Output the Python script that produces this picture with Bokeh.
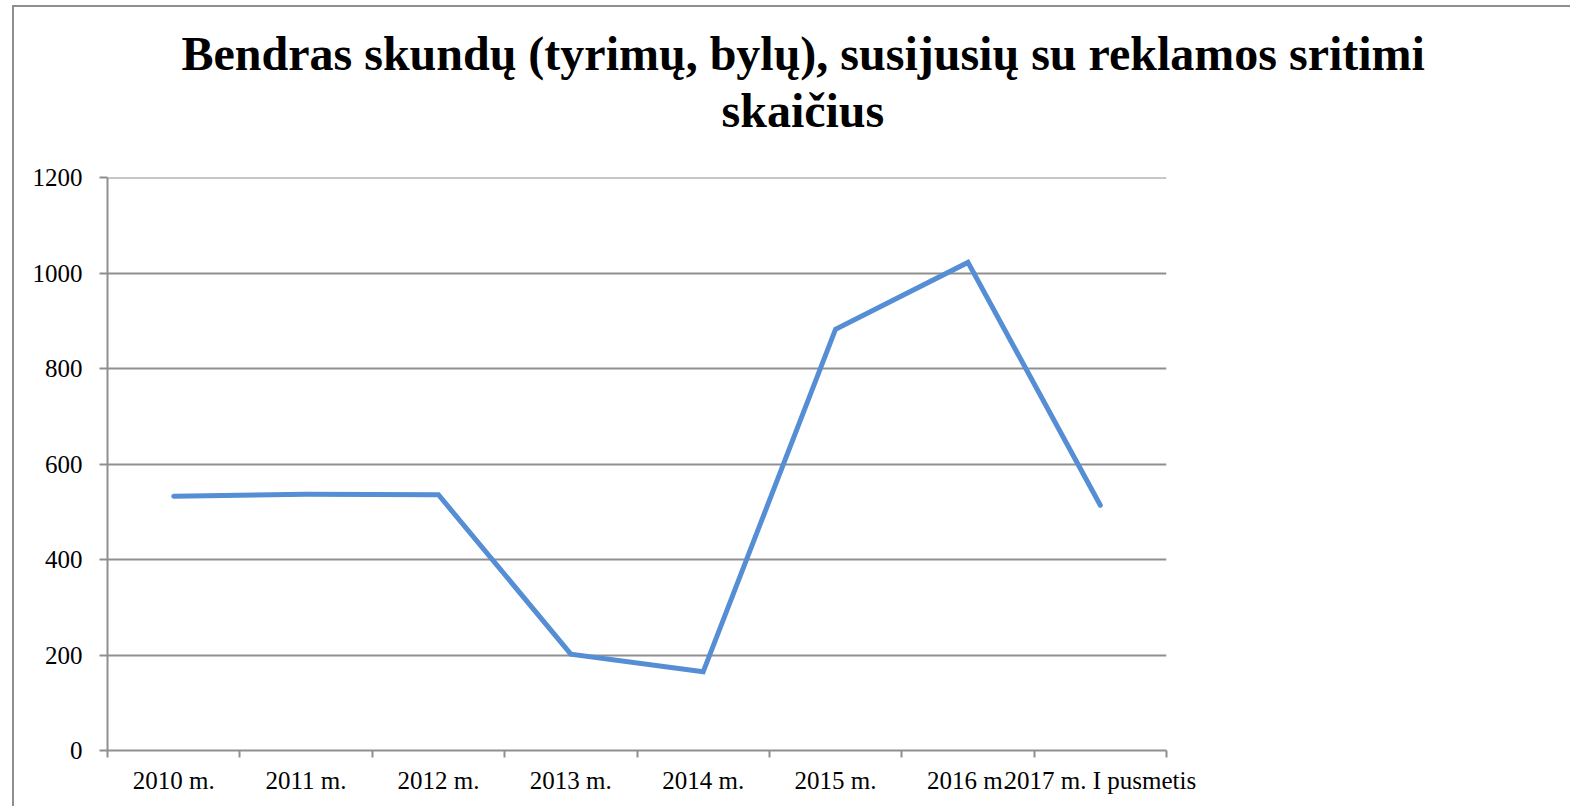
from bokeh.plotting import figure
from bokeh.models import Range1d, FixedTicker, Title
from bokeh.embed import file_html
from bokeh.resources import INLINE

categories = ["2010 m.", "2011 m.", "2012 m.", "2013 m.", "2014 m.",
              "2015 m.", "2016 m.", "2017 m. I pusmetis"]
values = [533, 537, 536, 202, 165, 883, 1023, 514]
y_ticks = [0, 200, 400, 600, 800, 1000, 1200]
title_lines = ["Bendras skundų (tyrimų, bylų), susijusių su reklamos sritimi",
               "skaičius"]

GRAY = "#8f8f8f"
LINE = "#558ED5"
FONT = "Liberation Serif"

W, H = 1558, 801
p = figure(width=W, height=H, output_backend="svg", toolbar_location=None,
           x_range=Range1d(0, len(categories)),
           y_range=Range1d(0, max(y_ticks) + 1),
           min_border_left=93, min_border_right=406, min_border_top=170,
           min_border_bottom=58)
p.styles = {"border-left": "2px solid " + GRAY, "border-top": "2px solid " + GRAY,
            "margin-left": "12px", "margin-top": "5px"}
p.outline_line_color = None
p.background_fill_color = "white"
p.border_fill_color = "white"

xs = [i + 0.5 for i in range(len(categories))]
p.line(xs, values, line_color=LINE, line_width=5, line_join="miter", line_cap="round")

# x axis: labels at category centres, tick marks at category boundaries
xa = p.xaxis[0]
xa.ticker = FixedTicker(ticks=xs, minor_ticks=list(range(len(categories) + 1)))
xa.major_label_overrides = {x: c for x, c in zip(xs, categories)}
xa.major_tick_line_color = None
xa.major_tick_out = 7
xa.major_tick_in = 0
xa.minor_tick_line_color = GRAY
xa.minor_tick_line_width = 2
xa.minor_tick_out = 7
xa.minor_tick_in = 0
xa.axis_line_color = GRAY
xa.axis_line_width = 2
xa.major_label_text_font = FONT
xa.major_label_text_font_size = "25px"
xa.major_label_text_color = "black"
xa.major_label_standoff = 9

ya = p.yaxis[0]
ya.ticker = FixedTicker(ticks=y_ticks, minor_ticks=[])
ya.major_tick_line_color = GRAY
ya.major_tick_line_width = 2
ya.major_tick_out = 8
ya.major_tick_in = 0
ya.minor_tick_line_color = None
ya.axis_line_color = GRAY
ya.axis_line_width = 2
ya.major_label_text_font = FONT
ya.major_label_text_font_size = "25px"
ya.major_label_text_color = "black"
ya.major_label_standoff = 17

p.xgrid.visible = False
p.ygrid.ticker = FixedTicker(ticks=y_ticks, minor_ticks=[])
p.ygrid.grid_line_color = GRAY
p.ygrid.grid_line_width = 2

# title: second line added first (closest to the frame)
for text, off, so in zip(reversed(title_lines), [614, 74], [82, -79]):
    p.add_layout(Title(text=text, align="left", offset=off,
                       text_font=FONT, text_font_style="bold",
                       text_font_size="48px", text_color="black",
                       standoff=so), "above")

open("out.html", "w").write(file_html(p, INLINE))
